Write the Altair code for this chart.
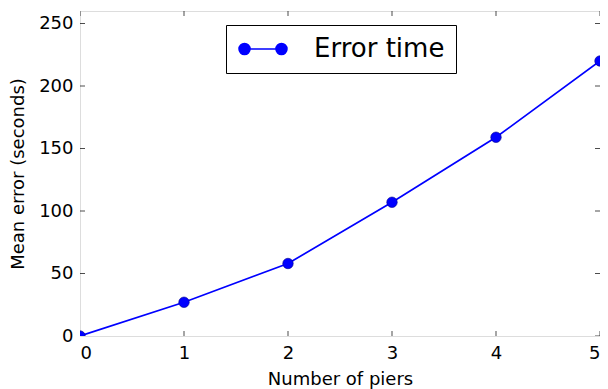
import altair as alt
import pandas as pd

piers = [0, 1, 2, 3, 4, 5]
errors = [0, 27, 58, 107, 159, 220]
series_name = "Error time"
x_ticks = [0, 1, 2, 3, 4, 5]
y_ticks = [0, 50, 100, 150, 200, 250]
x_domain = [0, 5]
y_domain = [0, 260]

df = pd.DataFrame({"piers": piers, "error": errors, "series": [series_name] * len(piers)})

xt = pd.DataFrame({"v": x_ticks * 2, "at": [y_domain[0]] * len(x_ticks) + [y_domain[1]] * len(x_ticks)})
yt = pd.DataFrame({"v": y_ticks * 2, "at": [x_domain[0]] * len(y_ticks) + [x_domain[1]] * len(y_ticks)})

FONT = "DejaVu Sans"
BLUE = "#0000ff"

xscale = alt.Scale(domain=x_domain, nice=False, zero=False)
yscale = alt.Scale(domain=y_domain, nice=False, zero=False)

xaxis = alt.Axis(values=x_ticks, title="Number of piers", labelFontSize=18, titleFontSize=18,
                 labelFont=FONT, titleFont=FONT, titleFontWeight="normal", labelColor="black",
                 titleColor="black", ticks=False, domain=False, grid=False, labelPadding=8,
                 titlePadding=8, format="d")
yaxis = alt.Axis(values=y_ticks, title="Mean error (seconds)", labelFontSize=18, titleFontSize=18,
                 labelFont=FONT, titleFont=FONT, titleFontWeight="normal", labelColor="black",
                 titleColor="black", ticks=False, domain=False, grid=False, labelPadding=7,
                 titlePadding=11, format="d")

line = alt.Chart(df).mark_line(color=BLUE, strokeWidth=1.7, clip=True).encode(
    x=alt.X("piers:Q", scale=xscale, axis=xaxis),
    y=alt.Y("error:Q", scale=yscale, axis=yaxis),
)

sym = ("M-1.54,0L1.54,0"
       "M-2,0A0.46,0.46 0 1 1 -1.08,0A0.46,0.46 0 1 1 -2,0Z"
       "M1.08,0A0.46,0.46 0 1 1 2,0A0.46,0.46 0 1 1 1.08,0Z")

points = alt.Chart(df).mark_point(filled=True, size=110, opacity=1, clip=True,
                                  stroke="#00008b", strokeWidth=0.6).encode(
    x=alt.X("piers:Q", scale=xscale),
    y=alt.Y("error:Q", scale=yscale),
    color=alt.Color("series:N", scale=alt.Scale(range=[BLUE]),
                    legend=alt.Legend(title=None, orient="none", legendX=146, legendY=14,
                                      symbolType=sym, symbolSize=576, symbolOffset=13,
                                      symbolFillColor=BLUE, symbolStrokeColor=BLUE,
                                      symbolStrokeWidth=1.5, symbolOpacity=1,
                                      labelFontSize=26, labelFont=FONT, labelColor="black",
                                      labelOffset=38, padding=11, strokeColor="black",
                                      fillColor="white", cornerRadius=0)),
)

xticks_l = alt.Chart(xt).mark_tick(color="black", size=10, thickness=1, orient="vertical",
                                   clip=True).encode(
    x=alt.X("v:Q", scale=xscale), y=alt.Y("at:Q", scale=yscale))
yticks_l = alt.Chart(yt).mark_tick(color="black", size=10, thickness=1, orient="horizontal",
                                   clip=True).encode(
    y=alt.Y("v:Q", scale=yscale), x=alt.X("at:Q", scale=xscale))

chart = alt.layer(xticks_l, yticks_l, line, points).properties(
    width=520, height=325,
    autosize=alt.AutoSizeParams(type="none"),
    padding={"left": 72, "top": 3, "right": 0, "bottom": 53},
).configure_view(stroke="black", strokeWidth=1.5).configure(background="white")

chart.save("out.html", embed_options={"renderer": "svg", "actions": False})
